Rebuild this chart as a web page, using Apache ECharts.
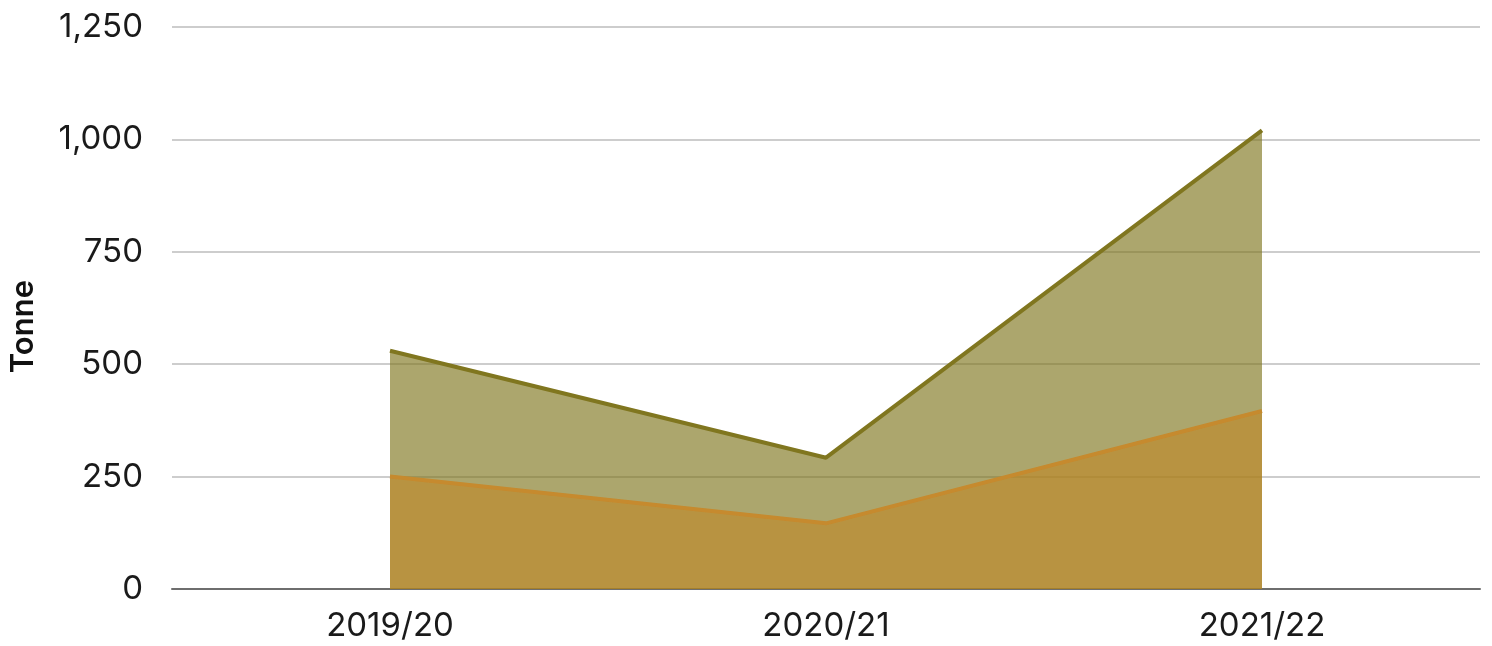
<!DOCTYPE html>
<html><head><meta charset="utf-8">
<script src="https://cdn.jsdelivr.net/npm/echarts@6/dist/echarts.min.js"></script>
<style>html,body{margin:0;padding:0;background:#fff}#c{width:1492px;height:646px}</style>
</head><body><div id="c"></div>
<script>
const categories = ['2019/20', '2020/21', '2021/22'];
const totalValues = [530, 292, 1020];
const lowerValues = [250, 146, 396];
const yTicks = [0, 250, 500, 750, 1000, 1250];
const yAxisTitle = 'Tonne';

const FONT = 'Inter';
const chart = echarts.init(document.getElementById('c'), null, {renderer: 'canvas'});
chart.setOption({
  animation: false,
  grid: {left: 172, right: 12, top: 27, bottom: 57, containLabel: false, outerBoundsMode: 'none'},
  graphic: [{
    type: 'text', left: 8, top: 280, rotation: Math.PI / 2,
    style: {text: yAxisTitle, font: '600 31px Inter', fill: '#111'}
  }],
  xAxis: {
    type: 'category', data: categories, boundaryGap: true,
    axisLine: {lineStyle: {color: '#6e6e6e', width: 2}},
    axisTick: {show: false},
    axisLabel: {margin: 21, fontSize: 33, color: '#1a1a1a', fontFamily: FONT}
  },
  yAxis: {
    type: 'value', min: yTicks[0], max: yTicks[yTicks.length - 1], interval: 250,
    axisLine: {show: false}, axisTick: {show: false},
    splitLine: {lineStyle: {color: '#bdbdbd', width: 1.5}},
    axisLabel: {margin: 29, fontSize: 33, color: '#1a1a1a', fontFamily: FONT,
      formatter: v => v.toLocaleString('en-US')}
  },
  series: [
    {type: 'line', data: totalValues, symbol: 'none',
      lineStyle: {color: '#80761f', width: 4},
      areaStyle: {color: 'rgba(128,118,31,0.65)', opacity: 1, origin: 'start'}},
    {type: 'line', data: lowerValues, symbol: 'none',
      lineStyle: {color: '#c68a2e', width: 4},
      areaStyle: {color: 'rgba(192,135,35,0.6)', opacity: 1, origin: 'start'}}
  ]
});
</script></body></html>
